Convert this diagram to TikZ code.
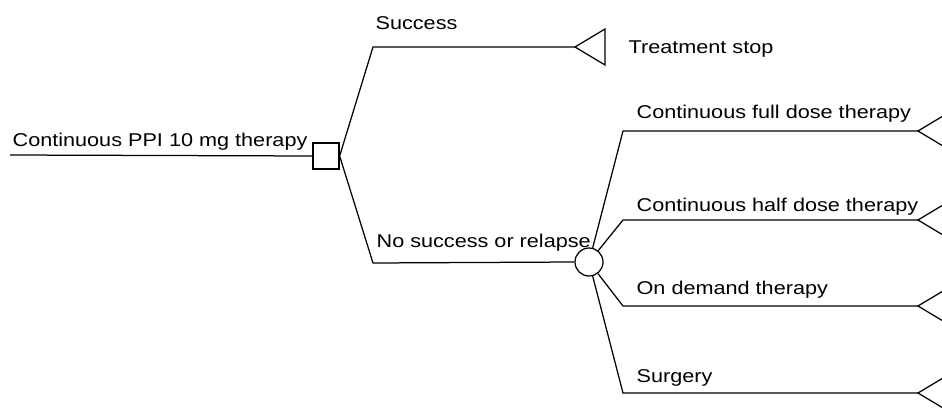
\documentclass[tikz,border=0pt]{standalone}
\usepackage{fontspec}
\setmainfont{Liberation Sans}[FakeStretch=1.17]
\begin{document}
\begin{tikzpicture}[x=1pt,y=-1pt,line width=1.25pt,
  lbl/.style={anchor=base west,inner sep=0pt,font=\fontsize{18.5}{21}\selectfont},
  decbox/.style={draw,rectangle,minimum size=26pt,inner sep=0pt},
  chance/.style={draw,circle,minimum size=28pt,inner sep=0pt},
  endtri/.style={draw}]
\useasboundingbox (0,0) rectangle (942,407);
\clip (0,0) rectangle (942,407);
% nodes
\coordinate (start) at (10,155);
\node[decbox] (sq) at (326,156) {};
\node[chance] (ch) at (589,262) {};
\coordinate (sUp) at (373,47);
\coordinate (sDn) at (373,263);
\coordinate (t0) at (575,47);
\coordinate (b1) at (623,131);
\coordinate (b2) at (623,220);
\coordinate (b3) at (623,306);
\coordinate (b4) at (623,393);
\coordinate (t1) at (918,131);
\coordinate (t2) at (918,220);
\coordinate (t3) at (918,306);
\coordinate (t4) at (918,393);
% connectors
\draw (start) -- (sq.west);
\draw (sq.east) -- (sUp) -- (t0);
\draw (sq.east) -- (sDn) -- (ch.west);
\foreach \i in {1,2,3,4}{
  \draw (ch) -- (b\i) -- (t\i);
}
% terminal triangles
\foreach \t in {t0,t1,t2,t3,t4}{
  \draw[endtri] (\t) -- ++(30,-18) -- ++(0,36) -- cycle;
}
% labels
\node[lbl] (l0) at (12,146) {Continuous PPI 10 mg therapy};
\node[lbl] (l1) at (375,29) {Success};
\node[lbl] (l2) at (628,53) {Treatment stop};
\node[lbl] (l3) at (376,247) {No success or relapse};
\node[lbl] (l4) at (636,118) {Continuous full dose therapy};
\node[lbl] (l5) at (636,211) {Continuous half dose therapy};
\node[lbl] (l6) at (636,294) {On demand therapy};
\node[lbl] (l7) at (636,382) {Surgery};
\end{tikzpicture}
\end{document}
